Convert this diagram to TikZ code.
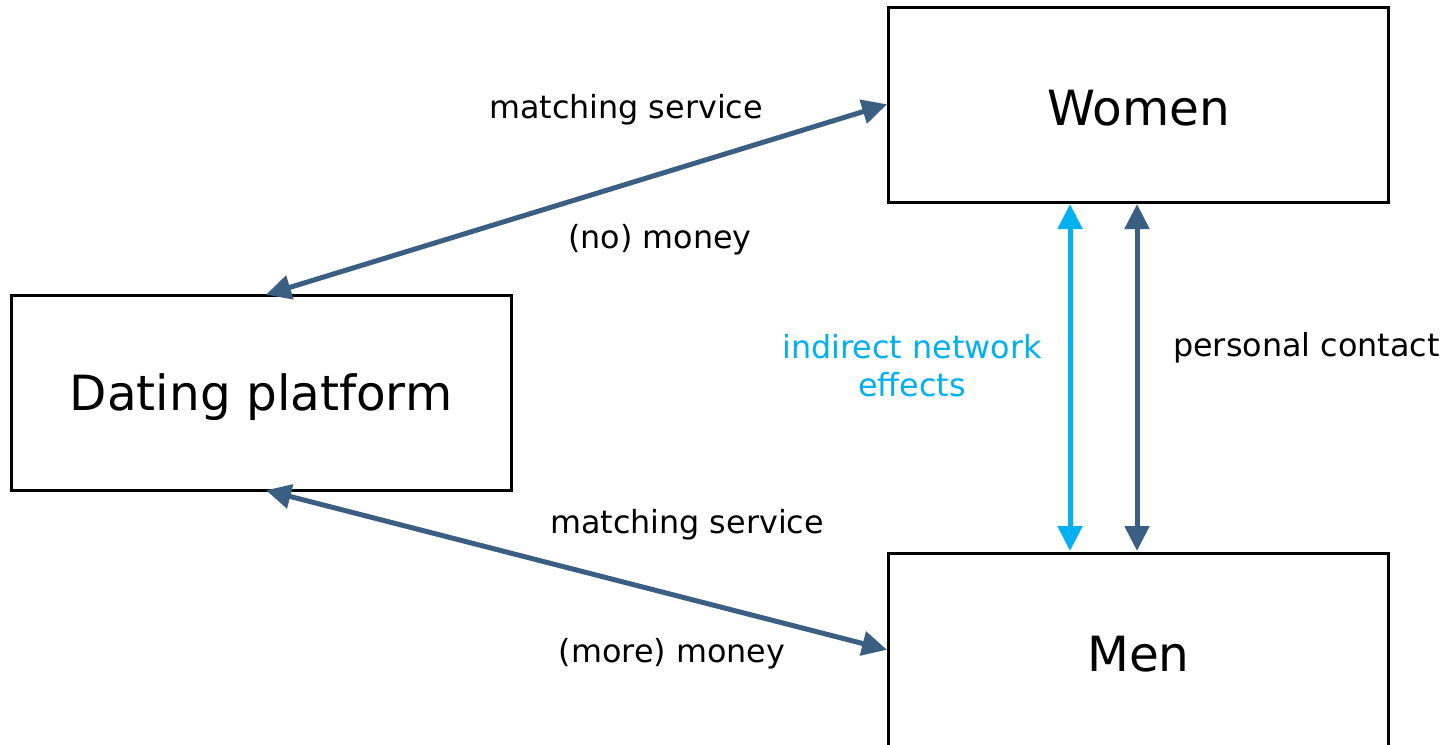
\documentclass[tikz,border=0pt]{standalone}
\usepackage{fontspec}
\setmainfont{DejaVu Sans}
\usetikzlibrary{arrows.meta}
\definecolor{flowblue}{HTML}{3A5F82}
\definecolor{effectblue}{HTML}{00B0F0}
\begin{document}
\begin{tikzpicture}[x=1pt,y=-1pt,
  party/.style={draw=black,line width=3pt,minimum width=500pt,minimum height=195pt,inner sep=0pt},
  title/.style={font=\fontsize{48.5}{54}\selectfont,inner sep=0pt},
  lbl/.style={font=\fontsize{31.8}{38}\selectfont,inner sep=0pt},
  flow/.style={draw=flowblue,line width=5pt,{Triangle[length=25pt,width=24pt]}-{Triangle[length=25pt,width=24pt]},shorten <=1pt,shorten >=1pt},
  effect/.style={flow,draw=effectblue}]
\useasboundingbox (0,0) rectangle (1445,744);
\clip (0,0) rectangle (1445,744);
% the three parties
\node[party] (plat) at (261,392.5) {};
\node[party] (women) at (1138.5,105) {};
\node[party] (men) at (1138.5,650.5) {};
\node[title] (platlbl) at (261,397) {Dating platform};
\node[title] (womenlbl) at (1138.5,108) {Women};
\node[title] (menlbl) at (1138.5,654) {Men};
% anchor points on the box edges
\coordinate (pTop) at (265,295);
\coordinate (pBot) at (265,490);
\coordinate (wL) at (888,104);
\coordinate (mL) at (888,650);
\coordinate (wB1) at (1070,203);
\coordinate (mT1) at (1070,552);
\coordinate (wB2) at (1137,203);
\coordinate (mT2) at (1137,552);
% exchanges between platform and the two sides
\draw[flow] (pTop) -- (wL);
\draw[flow] (pBot) -- (mL);
\draw[effect] (wB1) -- (mT1);
\draw[flow] (wB2) -- (mT2);
% labels
\node[lbl] (ms1) at (626,110) {matching service};
\node[lbl] (nm) at (660,240) {(no) money};
\node[lbl] (ms2) at (687,525) {matching service};
\node[lbl] (mm) at (672,654) {(more) money};
\node[lbl,text=effectblue,align=center] (ine) at (912,366) {indirect network\\effects};
\node[lbl,anchor=west] (pc) at (1173,348) {personal contact};
\end{tikzpicture}
\end{document}
